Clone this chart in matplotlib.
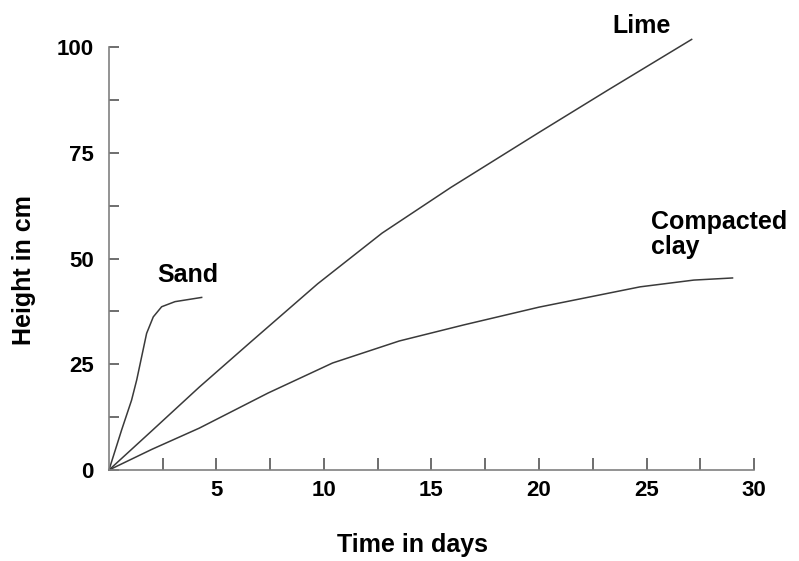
import matplotlib.pyplot as plt

# Values
sand_days = [0, 0.59, 1.05, 1.29, 1.52, 1.75, 2.06, 2.45, 3.07, 4.31]
sand_height = [0, 9.5, 16.5, 21.3, 26.8, 32.3, 36.2, 38.6, 39.8, 40.8]

lime_days = [0, 2.0, 4.2, 6.6, 9.7, 12.7, 15.9, 20.0, 23.2, 27.1]
lime_height = [0, 9.3, 19.6, 30.3, 44.0, 56.0, 66.8, 79.8, 89.8, 101.8]

clay_days = [0, 2.0, 4.2, 7.4, 10.4, 13.5, 16.5, 20.0, 24.7, 27.2, 29.0]
clay_height = [0, 4.9, 9.9, 18.2, 25.3, 30.5, 34.3, 38.5, 43.3, 44.9, 45.4]

x_major = [5, 10, 15, 20, 25, 30]
x_minor = [2.5, 7.5, 12.5, 17.5, 22.5, 27.5]
y_major = [0, 25, 50, 75, 100]
y_minor = [12.5, 37.5, 62.5, 87.5]

plt.rcParams['font.family'] = ['Liberation Sans', 'DejaVu Sans']
plt.rcParams['font.weight'] = 'bold'

fig = plt.figure(figsize=(7.99, 5.61), dpi=100)
ax = fig.add_axes([0.1364, 0.1622, 0.8073, 0.7540])

line_color = '#3a3a3a'
ax.plot(sand_days, sand_height, color=line_color, lw=1.1, clip_on=False)
ax.plot(lime_days, lime_height, color=line_color, lw=1.1, clip_on=False)
ax.plot(clay_days, clay_height, color=line_color, lw=1.1, clip_on=False)

ax.set_xlim(0, 30)
ax.set_ylim(0, 100)

for side in ['top', 'right']:
    ax.spines[side].set_visible(False)
for side in ['left', 'bottom']:
    ax.spines[side].set_color('#808080')
    ax.spines[side].set_linewidth(1.2)

ax.set_xticks(x_major)
ax.set_xticks(x_minor, minor=True)
ax.set_yticks(y_major)
ax.set_yticks(y_minor, minor=True)
ax.tick_params(axis='x', which='both', direction='in', length=9, width=1.2,
               color='#555555', labelsize=16, pad=7)
ax.tick_params(axis='y', which='both', direction='in', length=7, width=1.2,
               color='#555555', labelsize=16, pad=11)

ax.set_xlabel('Time in days', fontsize=18, fontweight='bold')
ax.set_ylabel('Height in cm', fontsize=18, fontweight='bold')
ax.xaxis.set_label_coords(0.471, -0.15)
ax.yaxis.set_label_coords(-0.113, 0.473)

ax.text(2.23, 44.4, 'Sand', fontsize=18, fontweight='bold')
ax.text(23.4, 103.3, 'Lime', fontsize=18, fontweight='bold')
ax.text(25.2, 61.5, 'Compacted\nclay', fontsize=18, fontweight='bold',
        va='top', linespacing=1.05)

fig.savefig('out.png', dpi=100)
